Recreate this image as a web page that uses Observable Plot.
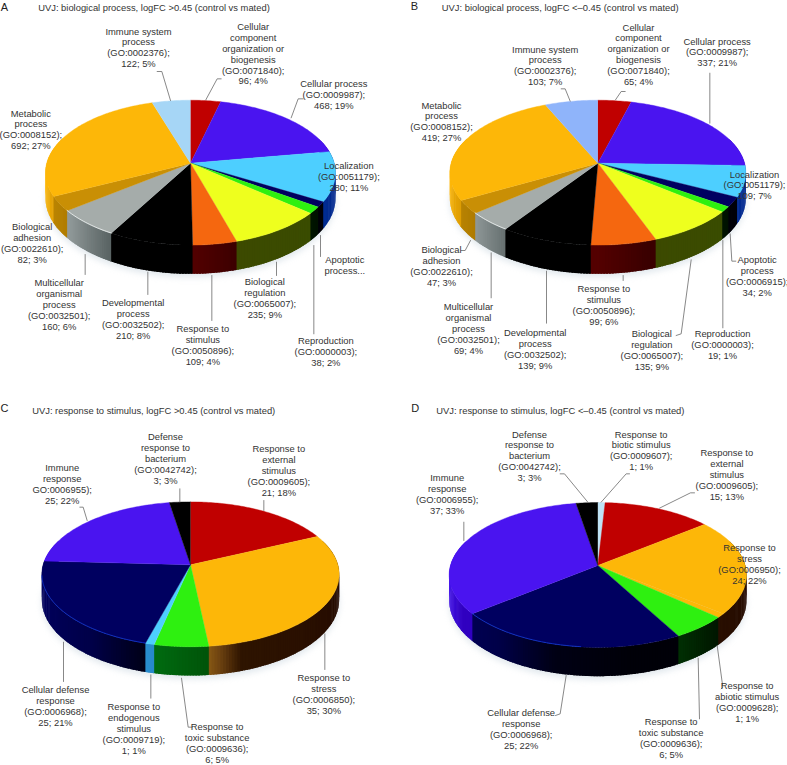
<!DOCTYPE html>
<html><head><meta charset="utf-8">
<style>html,body{margin:0;padding:0;background:#fff}</style>
<script src="https://cdn.jsdelivr.net/npm/d3@7"></script>
<script src="https://cdn.jsdelivr.net/npm/@observablehq/plot@0.6"></script>
</head><body><div id="chart"></div>
<script>
// ---------- data ----------
const namesA = ["Cellular\ncomponent\norganization or\nbiogenesis","Cellular process","Localization","Apoptotic\nprocess...","Reproduction","Biological\nregulation","Response to\nstimulus","Developmental\nprocess","Multicellular\norganismal\nprocess","Biological\nadhesion","Metabolic\nprocess","Immune system\nprocess"];
const idsA = ["(GO:0071840)","(GO:0009987)","(GO:0051179)",null,"(GO:0000003)","(GO:0065007)","(GO:0050896)","(GO:0032502)","(GO:0032501)","(GO:0022610)","(GO:0008152)","(GO:0002376)"];
const countsA = [96,468,280,30,38,235,109,210,160,82,692,122];
const pctsA = [4,19,11,null,2,9,4,8,6,3,27,5];
const coloursA = ["#c00000","#4a14f0","#4dcfff","#000060","#2ef010","#eeff1e","#f5670f","#000000","#a5acaa","#c98f05","#fdb708","#a6d6f6"];

const namesB = ["Cellular\ncomponent\norganization or\nbiogenesis","Cellular process","Localization","Apoptotic\nprocess","Reproduction","Biological\nregulation","Response to\nstimulus","Developmental\nprocess","Multicellular\norganismal\nprocess","Biological\nadhesion","Metabolic\nprocess","Immune system\nprocess"];
const idsB = ["(GO:0071840)","(GO:0009987)","(GO:0051179)","(GO:0006915)","(GO:0000003)","(GO:0065007)","(GO:0050896)","(GO:0032502)","(GO:0032501)","(GO:0022610)","(GO:0008152)","(GO:0002376)"];
const countsB = [65,337,109,34,19,135,99,139,69,47,419,103];
const pctsB = [4,21,7,2,1,9,6,9,4,3,27,7];
const coloursB = ["#c00000","#4a14f0","#4dcfff","#000060","#2ef010","#eeff1e","#f5670f","#000000","#a5acaa","#c98f05","#fdb708","#8fb4fa"];

const namesC = ["Response to\nexternal\nstimulus","Response to\nstress","Response to\ntoxic substance","Response to\nendogenous\nstimulus","Cellular defense\nresponse","Immune\nresponse","Defense\nresponse to\nbacterium"];
const idsC = ["(GO:0009605)","(GO:0006850)","(GO:0009636)","(GO:0009719)","(GO:0006968)","GO:0006955)","(GO:0042742)"];
const countsC = [21,35,6,1,25,25,3];
const pctsC = [18,30,5,1,21,22,3];
const coloursC = ["#c00000","#fdb708","#2ef010","#4dcfff","#000060","#4a14f0","#000000"];

const namesD = ["Response to\nbiotic stimulus","Response to\nexternal\nstimulus","Response to\nstress","Response to\nabiotic stimulus","Response to\ntoxic substance","Cellular defense\nresponse","Immune\nresponse","Defense\nresponse to\nbacterium"];
const idsD = ["(GO:0009607)","(GO:0009605)","(GO:0006950)","(GO:0009628)","(GO:0009636)","(GO:0006968)","(GO:0006955)","(GO:0042742)"];
const countsD = [1,15,24,1,6,25,37,3];
const pctsD = [1,13,22,1,5,22,33,3];
const coloursD = ["#bfe3f5","#c00000","#fdb708","#fdb708","#2ef010","#000060","#4a14f0","#000000"];

const titles = ["UVJ: biological process, logFC >0.45 (control vs mated)","UVJ: biological process, logFC <–0.45 (control vs mated)","UVJ: response to stimulus, logFC >0.45 (control vs mated)","UVJ: response to stimulus, logFC <–0.45 (control vs mated)"];
const letters = ["A","B","C","D"];

// ---------- wall tones per face colour: [horizontal position -1..1, wall colour] ----------
const wallTones = {
  "#fdb708":[[-1,"#fdb708"],[-.92,"#e6a404"],[-.6,"#a87400"],[.1,"#8a5a14"],[.18,"#6a4010"],[.3,"#2e1400"],[1,"#260c00"]],
  "#c98f05":[[-1,"#c48c04"],[-.7,"#a87600"]],
  "#4a14f0":[[-1,"#4212e8"],[-.85,"#3000c0"]],
  "#000060":[[-1,"#00005e"],[-.6,"#000048"],[-.25,"#000014"],[.2,"#000008"],[.8,"#000008"]],
  "#4dcfff":[[-.3,"#2a90d0"],[.9,"#002a90"]],
  "#2ef010":[[-.2,"#006a10"],[.15,"#005008"],[.7,"#001a00"],[.85,"#001000"]],
  "#eeff1e":[[.3,"#3c4a00"],[.8,"#3a4c00"]],
  "#f5670f":[[0,"#540000"],[.3,"#3a0000"]],
  "#a5acaa":[[-.95,"#b4bcbc"],[-.5,"#5a6464"]],
  "#000000":[[-1,"#000000"],[1,"#000000"]],
  "#fallback":[[-1,"#555555"],[1,"#222222"]]
};
const rimColours = {"#a5acaa":"#f2f6f6","#000060":"#1038d8"};

// ---------- layout (annotation placement, in thirds of a pixel, relative to panel origin) ----------
const origins = [[0,0],[394,0],[0,385],[394,385]];
const titleAt = [[113,22],[142,22],[95,75],[125,75]];
const letterAt = [[12,20],[60,18],[12,68],[62,70]];
const pieGeom = [[570,488,435],[610,488,444],[570,538,446],[610,540,446]];
const labelAtA = [[758,80],[1000,252],[1045,497],[1033,779],[976,1023],[793,846],[607,986],[398,908],[176,848],[95,681],[91,340],[414,94]];
const labelAtB = [[732,82],[968,124],[1080,523],[1088,779],[984,1002],[772,1002],[628,867],[422,998],[222,920],[141,749],[141,316],[452,148]];
const labelAtC = [[835,191],[970,878],[650,1026],[400,965],[165,914],[185,248],[495,155]];
const labelAtD = [[740,148],[997,204],[1065,488],[1058,902],[830,1011],[380,984],[158,278],[405,148]];
const leadersA = [[[616,298],[650,235],[662,235]],[[872,352],[893,295],[908,295]],[[960,705],[960,768]],[[940,735],[940,1000]],[[828,785],[828,825]],[[634,825],[634,960]],[[442,815],[442,882]],[[254,762],[254,822]],[[510,300],[484,213],[470,213]]];
const leadersB = [[[663,298],[680,273],[692,273]],[[946,368],[946,218]],[[1007,700],[1012,782],[1024,782]],[[985,720],[985,982]],[[890,778],[860,1000],[845,1005]],[[686,825],[686,840]],[[456,812],[456,968]],[[290,757],[290,892]],[[228,720],[212,750],[200,750]],[[527,302],[512,265],[500,265]]];
const leadersC = [[[538,350],[538,310]],[[790,375],[790,345]],[[973,745],[973,852]],[[543,878],[563,1025],[575,1025]],[[451,868],[451,938]],[[189,770],[189,888]],[[260,405],[248,365],[238,365]]];
const leadersD = [[[580,350],[510,265],[497,265]],[[620,350],[695,265],[705,265]],[[795,368],[888,322],[900,322]],[[968,780],[985,905],[980,910]],[[911,818],[915,1000]],[[515,870],[497,985],[483,990]],[[208,465],[208,410]]];

const panels = [
 {names:namesA,ids:idsA,counts:countsA,pcts:pctsA,colours:coloursA,labelAt:labelAtA,leaders:leadersA},
 {names:namesB,ids:idsB,counts:countsB,pcts:pctsB,colours:coloursB,labelAt:labelAtB,leaders:leadersB},
 {names:namesC,ids:idsC,counts:countsC,pcts:pctsC,colours:coloursC,labelAt:labelAtC,leaders:leadersC},
 {names:namesD,ids:idsD,counts:countsD,pcts:pctsD,colours:coloursD,labelAt:labelAtD,leaders:leadersD}
];

// ---------- perspective pie geometry derived from the values ----------
const persp = 0.131, ryBase = 71.2, depth = 25;
const wallScales = Object.fromEntries(Object.entries(wallTones).map(([k,st])=>[k,
  d3.scaleLinear().domain(st.map(s=>s[0])).range(st.map(s=>s[1])).interpolate(d3.interpolateRgb).clamp(true)]));
const wallColour=(c,t)=>d3.rgb((wallScales[c]||wallScales["#fallback"])(t)).formatHex();

const faces=[], walls=[], rims=[], shadows=[], labels=[], leaderPts=[], heads=[], caps=[];
panels.forEach((p,pi)=>{
  const [ox,oy]=origins[pi];
  const [gx,gy,grx]=pieGeom[pi];
  const cx=ox+gx/3, cy=oy+gy/3, rx=grx/3/1.0087;
  const proj=(deg,dz=0)=>{
    const a=deg*Math.PI/180,u=Math.sin(a),v=-Math.cos(a),w=1/(1-persp*v);
    return [cx+rx*u*w, cy+ryBase*v*w+dz*w];
  };
  const total=d3.sum(p.counts);
  let cum=0;
  d3.range(0,361,3).forEach(d=>{const q=proj(d,depth+3);shadows.push({id:pi,x:q[0],y:q[1]});});
  p.counts.forEach((n,i)=>{
    const a0=cum/total*360; cum+=n; const a1=cum/total*360;
    const col=p.colours[i], id=pi+"-"+i;
    const steps=Math.max(2,Math.ceil(a1-a0));
    const ang=d3.range(steps+1).map(k=>a0+(a1-a0)*k/steps);
    for(let k=0;k<steps;k++){
      const b0=ang[k],b1=ang[k+1];
      if(b1<70||b0>290) continue;
      const t=Math.sin((b0+b1)/2*Math.PI/180);
      const tone=wallColour(col,t), wid=id+"-"+k;
      // each strip overlaps the next one slightly so no seam shows
      [proj(b0),proj(b1+.7),proj(b1+.7,depth),proj(b0,depth)].forEach(q=>walls.push({id:wid,x:q[0],y:q[1],tone}));
    }
    faces.push({id,x:cx,y:cy,tone:col});
    ang.forEach(b=>{const q=proj(b);faces.push({id,x:q[0],y:q[1],tone:col});});
    const rimAng=ang.filter(b=>b>=185&&b<=262);
    if(rimAng.length>1&&rimColours[col]){
      rimAng.forEach(b=>{const q=proj(b);rims.push({id,x:q[0],y:q[1]-.3,rim:rimColours[col]});});
    }
    const text=p.ids[i]?`${p.names[i]}\n${p.ids[i]};\n${n}; ${p.pcts[i]}%`:p.names[i];
    const at=p.labelAt[i];
    labels.push({x:ox+at[0]/3,y:oy+at[1]/3-5,text});
  });
  p.leaders.forEach((l,li)=>l.forEach(q=>leaderPts.push({id:pi+"-"+li,x:ox+q[0]/3,y:oy+q[1]/3})));
  heads.push({x:ox+titleAt[pi][0]/3,y:oy+titleAt[pi][1]/3,text:titles[pi]});
  caps.push({x:ox+letterAt[pi][0]/3,y:oy+letterAt[pi][1]/3,text:letters[pi]});
});

const font="Liberation Sans, Arial, sans-serif";
const chart=Plot.plot({
  width:787,height:765,margin:0,
  x:{type:"linear",domain:[0,787],range:[0,787],axis:null},
  y:{type:"linear",domain:[0,765],range:[0,765],axis:null},
  color:{type:"identity"},
  style:{background:"#fff"},
  marks:[
    Plot.line(shadows,{x:"x",y:"y",z:"id",fill:"#a9bccb",fillOpacity:.35,stroke:"none",imageFilter:"blur(3px)"}),
    Plot.line(walls,{x:"x",y:"y",z:"id",fill:"tone",stroke:"none",imageFilter:"blur(0.35px)"}),
    Plot.line(faces,{x:"x",y:"y",z:"id",fill:"tone",stroke:"tone",strokeWidth:.4,imageFilter:"blur(0.35px)"}),
    Plot.line(rims,{x:"x",y:"y",z:"id",stroke:"rim",strokeWidth:.9,strokeOpacity:.85}),
    Plot.line(leaderPts,{x:"x",y:"y",z:"id",stroke:"#6a6a6a",strokeWidth:.8}),
    Plot.text(labels,{x:"x",y:"y",text:"text",lineAnchor:"top",lineHeight:1.16,fontSize:9.4,fontFamily:font,fill:"#333"}),
    Plot.text(heads,{x:"x",y:"y",text:"text",textAnchor:"start",fontSize:9.4,fontFamily:font,fill:"#333"}),
    Plot.text(caps,{x:"x",y:"y",text:"text",fontSize:11,fontFamily:font,fill:"#222"})
  ]
});
document.getElementById("chart").appendChild(chart);
</script></body></html>
